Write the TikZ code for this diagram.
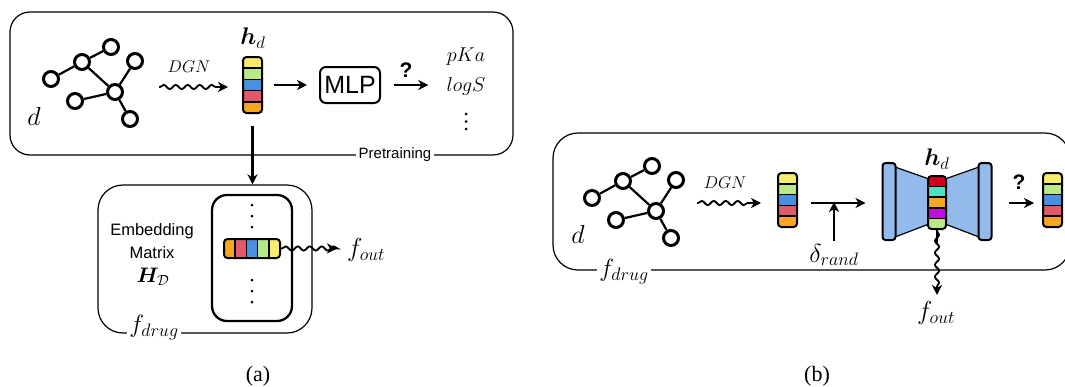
\RequirePackage{fix-cm}
\documentclass[tikz,border=0pt]{standalone}
\usepackage{amsmath,bm}
\usepackage{fontspec}
\setmainfont{Liberation Serif}
\setsansfont{Liberation Sans}
\usetikzlibrary{arrows.meta,decorations.pathmorphing,calc}

\definecolor{cyel}{HTML}{F8EC6E}
\definecolor{cgrn}{HTML}{B8E986}
\definecolor{cblu}{HTML}{4A90E2}
\definecolor{cred}{HTML}{E05A6B}
\definecolor{corg}{HTML}{F5A623}
\definecolor{cdred}{HTML}{D0021B}
\definecolor{cteal}{HTML}{50E3C2}
\definecolor{cpur}{HTML}{BD10E0}
\definecolor{cae}{HTML}{92BBEC}

\newcommand\fsz[1]{\fontsize{#1}{#1}\selectfont}
% math symbol with a large subscript: base size, symbol, sub size, subscript
\newcommand\bigsub[4]{\fsz{#1}$#2_{\mbox{\fsz{#3}$#4$}}$}

% vertical vector: name, cx, cy, w, h, colours (top to bottom)
\newcommand\vvec[6]{%
  \begin{scope}
    \clip[rounded corners=3.5] ({#2-#4/2},{#3-#5/2}) rectangle ({#2+#4/2},{#3+#5/2});
    \foreach \vcol [count=\ii] in {#6} {\fill[\vcol] ({#2-#4/2},{#3-#5/2+(\ii-1)*#5/5}) rectangle ({#2+#4/2},{#3-#5/2+\ii*#5/5});}
    \foreach \ii in {1,...,4} {\draw[line width=1.5] ({#2-#4/2},{#3-#5/2+\ii*#5/5}) -- ({#2+#4/2},{#3-#5/2+\ii*#5/5});}
  \end{scope}
  \node[vecbox,minimum width=#4,minimum height=#5] (#1) at (#2,#3) {};
}
% horizontal vector: name, cx, cy, w, h, colours (left to right)
\newcommand\hvec[6]{%
  \begin{scope}
    \clip[rounded corners=3.5] ({#2-#4/2},{#3-#5/2}) rectangle ({#2+#4/2},{#3+#5/2});
    \foreach \vcol [count=\ii] in {#6} {\fill[\vcol] ({#2-#4/2+(\ii-1)*#4/5},{#3-#5/2}) rectangle ({#2-#4/2+\ii*#4/5},{#3+#5/2});}
    \foreach \ii in {1,...,4} {\draw[line width=1.5] ({#2-#4/2+\ii*#4/5},{#3-#5/2}) -- ({#2-#4/2+\ii*#4/5},{#3+#5/2});}
  \end{scope}
  \node[vecbox,minimum width=#4,minimum height=#5] (#1) at (#2,#3) {};
}
% molecule graph: prefix, dx, dy
\newcommand\molgraph[3]{%
  \begin{scope}[shift={(#2,#3)}]
    \node[atom] (#1a) at (51,79) {};
    \node[atom] (#1b) at (82,62) {};
    \node[atom] (#1c) at (111,47) {};
    \node[atom] (#1d) at (135,61) {};
    \node[atom] (#1e) at (115,92) {};
    \node[atom] (#1f) at (75,101) {};
    \node[atom] (#1g) at (130,119) {};
  \end{scope}
  \draw[bond] (#1a) -- (#1b);
  \draw[bond] (#1b) -- (#1c);
  \draw[bond] (#1b) -- (#1e);
  \draw[bond] (#1d) -- (#1e);
  \draw[bond] (#1f) -- (#1e);
  \draw[bond] (#1e) -- (#1g);
}

\tikzset{
  vecbox/.style={draw,line width=2,rounded corners=3.5,inner sep=0},
  atom/.style={circle,draw,line width=3,fill=white,minimum size=15,inner sep=0},
  bond/.style={line width=2.2},
  arr/.style={-{Stealth[length=10,width=10,inset=3]},line width=2.1},
  wav/.style={-{Stealth[length=10,width=10,inset=3]},line width=1.8,decorate,decoration={snake,amplitude=2.1,segment length=12,post length=9,pre length=1}},
  frame/.style={draw,line width=1.2,inner sep=0},
  lbl/.style={inner sep=0},
  sflbl/.style={inner sep=0,font=\sffamily\fsz{16.5}},
  dotc/.style={fill=black},
}

\begin{document}
\begin{tikzpicture}[x=1pt,y=-1pt]
\useasboundingbox (0,0) rectangle (1065,386);

% ================= (a) =================
\node[frame,rounded corners=20,minimum width=503,minimum height=143] (pre) at (261.5,83.5) {};
\node[fill=white,inner sep=3,font=\sffamily\fsz{15}] (prelbl) at (395,155) {Pretraining};

\molgraph{L}{0}{0}
\node[lbl,font=\fsz{26}] (dL) at (34,116) {$d$};

\node[lbl,font=\fsz{17}] (dgnL) at (189,67) {$DGN$};
\coordinate (w1s) at (159,87);
\coordinate (w1e) at (228,87);
\draw[wav] (w1s) -- (w1e);

\vvec{hL}{252.5}{85}{19}{56}{cyel,cgrn,cblu,cred,corg}
\node[lbl,font=\fsz{24}] (hLlab) at (253,38) {$\bm{h}_d$};

\node[draw,line width=2,rounded corners=6,minimum width=60,minimum height=36,inner sep=0,font=\sffamily\fsz{25}] (mlp) at (350,85) {MLP};
\draw[arr,shorten <=11,shorten >=12] (hL) -- (mlp);

\node[lbl,font=\fsz{20}] (pka) at (466,57) {$pKa$};
\node[lbl,font=\fsz{20}] (logs) at (466,86) {$logS$};
\fill[dotc] (466,114) circle (1.5) (466,121.5) circle (1.5) (466,129) circle (1.5);
\node[lbl,font=\sffamily\bfseries\fsz{21}] (q1) at (406,70) {?};
\draw[arr,shorten <=13,shorten >=18] (mlp.east) -- (mlp.east -| logs.west);

% embedding matrix box
\node[frame,rounded corners=25,minimum width=214,minimum height=148] (fd1) at (205,259) {};
\node[fill=white,inner sep=2] (fd1lbl) at (154,328) {\bigsub{25}{f}{18}{drug}};
\draw[arr,shorten <=12] (hL.south) -- (hL.south |- fd1.north);

\node[draw,line width=2.3,rounded corners=15,minimum width=80,minimum height=126,inner sep=0] (emb) at (252,258) {};
\fill[dotc] (252,205) circle (1.5) (252,216) circle (1.5) (252,227) circle (1.5);
\fill[dotc] (252,280) circle (1.5) (252,291) circle (1.5) (252,302) circle (1.5);
\hvec{hE}{252}{248.5}{56}{19}{corg,cred,cblu,cgrn,cyel}

\node[sflbl] (emb1) at (152,231) {Embedding};
\node[sflbl] (emb2) at (152,253) {Matrix};
\node[lbl,font=\fsz{21}] (emb3) at (153,277) {$\bm{H}_{\mathcal{D}}$};

\node[lbl,anchor=west] (fo1) at (347,250) {\bigsub{26}{f}{18}{out}};
\draw[wav,shorten >=10] (hE.east) -- (hE.east -| fo1.west);

\node[lbl,font=\fsz{22}] (capa) at (258,376) {(a)};

% ================= (b) =================
\node[frame,rounded corners=25,minimum width=517,minimum height=137] (fd2) at (811.5,201.5) {};
\node[fill=white,inner sep=2] (fd2lbl) at (624,272) {\bigsub{25}{f}{18}{drug}};

\molgraph{R}{541}{119}
\node[lbl,font=\fsz{26}] (dR) at (578,234) {$d$};

\node[lbl,font=\fsz{17}] (dgnR) at (725,183) {$DGN$};
\coordinate (w2s) at (697,203);
\coordinate (w2e) at (761,203);
\draw[wav] (w2s) -- (w2e);

\vvec{vR}{787.5}{200}{19}{54}{cyel,cgrn,cblu,cred,corg}

% autoencoder
\draw[fill=cae,line width=1.2] (895,167) -- (929,179) -- (929,224) -- (895,237) -- cycle;
\draw[fill=cae,line width=1.2] (945,179) -- (979,167) -- (979,237) -- (945,224) -- cycle;
\node[draw,fill=cae,line width=2,rounded corners=3,minimum width=13,minimum height=77,inner sep=0] (aeL) at (889,201.5) {};
\node[draw,fill=cae,line width=2,rounded corners=3,minimum width=13,minimum height=77,inner sep=0] (aeR) at (985,201.5) {};
\vvec{vC}{937}{202.5}{18}{53}{cdred,cteal,corg,cpur,cgrn}
\node[lbl,font=\fsz{24}] (hRlab) at (937,159) {$\bm{h}_d$};

\coordinate (jn) at (834,203);
\draw[arr,shorten <=13,shorten >=16] (vR.east |- jn) -- (aeL.west |- jn);
\node[lbl] (dr) at (834,255) {\bigsub{26}{\delta}{18}{rand}};
\draw[arr,shorten <=3,shorten >=-1] (dr.north) -- (jn);

\node[lbl,anchor=north] (fo2) at (936,301) {\bigsub{26}{f}{18}{out}};
\draw[wav,shorten <=13,shorten >=6] (vC.south) -- (vC.south |- fo2.north);

\vvec{vO}{1052.5}{200}{19}{54}{cyel,cgrn,cblu,cred,corg}
\draw[arr,shorten <=16,shorten >=8] (aeR.east |- jn) -- (vO.west |- jn);
\node[lbl,font=\sffamily\bfseries\fsz{21}] (q2) at (1019,182) {?};

\node[lbl,font=\fsz{22}] (capb) at (817,376) {(b)};
\end{tikzpicture}
\end{document}
